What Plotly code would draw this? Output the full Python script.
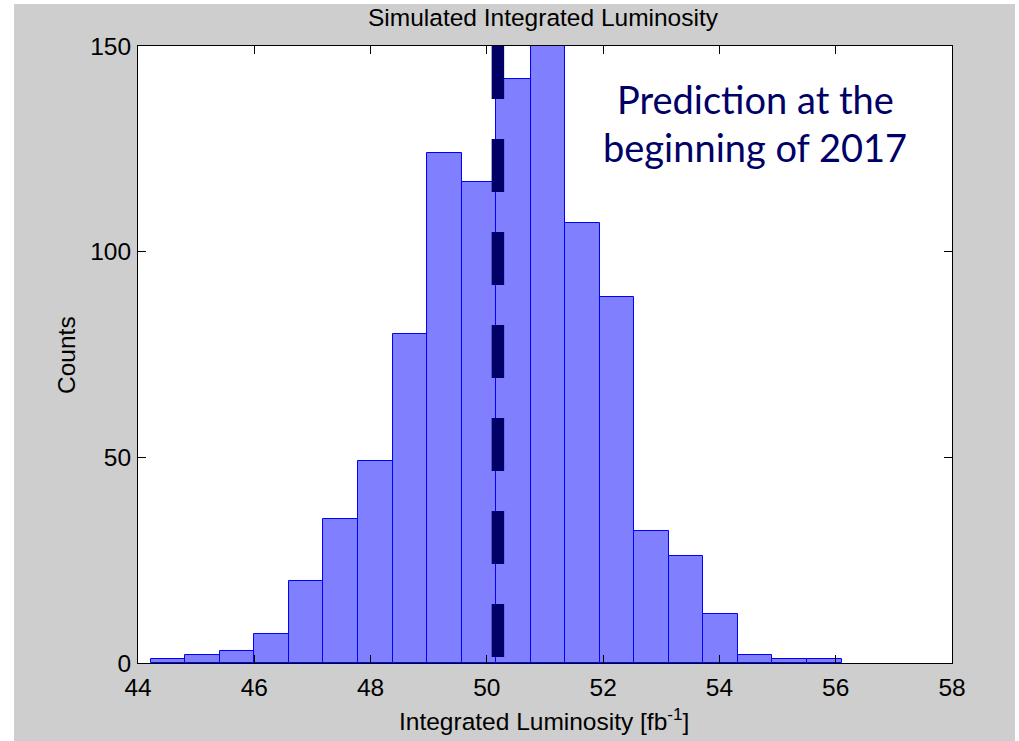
import plotly.graph_objects as go

# ---------------- data ----------------
bin_first_edge = 44.22          # left edge of first histogram bin (fb^-1)
bin_last_edge = 56.10           # right edge of last histogram bin (fb^-1)
counts = [1, 2, 3, 7, 20, 35, 49, 80, 124, 117,
          142, 158, 107, 89, 32, 26, 12, 2, 1, 1]
prediction_value = 50.19        # dashed line position (fb^-1)
x_ticks = [44, 46, 48, 50, 52, 54, 56, 58]
y_ticks = [0, 50, 100, 150]

n_bins = len(counts)
bin_width = (bin_last_edge - bin_first_edge) / n_bins
bin_centers = [bin_first_edge + bin_width * (i + 0.5) for i in range(n_bins)]

# ---------------- layout geometry (pixels) ----------------
W, H = 1019, 741
L, R, T, B = 138, 952, 46, 663
pw, ph = R - L, B - T


def px_x(px):
    return (px - L) / pw


def px_y(py):
    return (B - py) / ph


FIG_BG = "#cecece"
NAVY = "#000066"
MFONT = "Liberation Sans, Arial, sans-serif"
MSIZE = 24.5

fig = go.Figure()

fig.add_trace(go.Bar(
    x=bin_centers,
    y=counts,
    width=[bin_width] * n_bins,
    marker=dict(color="#8080ff", line=dict(color="#0000ff", width=1)),
    showlegend=False,
    hoverinfo="x+y",
))

fig.add_trace(go.Scatter(
    x=[prediction_value, prediction_value],
    y=[y_ticks[-1], y_ticks[0]],
    mode="lines",
    line=dict(color=NAVY, width=12.5, dash="53px,40px"),
    showlegend=False,
    hoverinfo="skip",
))

axis_common = dict(
    showline=True, linecolor="black", linewidth=1, mirror="ticks",
    ticks="inside", ticklen=8, tickwidth=1, tickcolor="black",
    showgrid=False, zeroline=False,
    tickfont=dict(family=MFONT, size=MSIZE, color="black"),
)

fig.update_layout(
    width=W, height=H,
    margin=dict(l=L, r=W - R, t=T, b=H - B, pad=0),
    paper_bgcolor=FIG_BG,
    plot_bgcolor="white",
    bargap=0,
    xaxis=dict(range=[x_ticks[0], x_ticks[-1]], tickvals=x_ticks,
               ticklabelstandoff=3, **axis_common),
    yaxis=dict(range=[y_ticks[0], y_ticks[-1]], tickvals=y_ticks,
               ticklabelstandoff=1, **axis_common),
    font=dict(family=MFONT, size=MSIZE, color="black"),
    showlegend=False,
)

# white border strips of the screenshot
strips = [
    (0, 14, 0, H),        # left
    (0, W, 0, 4),         # top
    (1015, W, 0, H),      # right
]
for x0, x1, y0, y1 in strips:
    fig.add_shape(type="rect", xref="paper", yref="paper",
                  x0=px_x(x0), x1=px_x(x1), y0=px_y(y1), y1=px_y(y0),
                  fillcolor="white", line=dict(width=0), layer="below")

# texts
fig.add_annotation(text="Simulated Integrated Luminosity", xref="paper", yref="paper",
                   x=px_x(543), y=px_y(17.5), xanchor="center", yanchor="middle",
                   showarrow=False, font=dict(family=MFONT, size=MSIZE, color="black"))
fig.add_annotation(text="Integrated Luminosity [fb<sup>-1</sup>]", xref="paper", yref="paper",
                   x=px_x(544), y=px_y(719), xanchor="center", yanchor="middle",
                   showarrow=False, font=dict(family=MFONT, size=MSIZE, color="black"))
fig.add_annotation(text="Counts", xref="paper", yref="paper", textangle=-90,
                   x=px_x(66), y=px_y(355), xanchor="center", yanchor="middle",
                   showarrow=False, font=dict(family=MFONT, size=MSIZE, color="black"))

ANN_FONT = dict(family="Lato, Open Sans, sans-serif", size=38, color=NAVY)
fig.add_annotation(text="Prediction at the", xref="paper", yref="paper",
                   x=px_x(755), y=px_y(99), xanchor="center", yanchor="middle",
                   showarrow=False, font=ANN_FONT)
fig.add_annotation(text="beginning of 2017", xref="paper", yref="paper",
                   x=px_x(755), y=px_y(147), xanchor="center", yanchor="middle",
                   showarrow=False, font=ANN_FONT)

fig.write_html("out.html")
